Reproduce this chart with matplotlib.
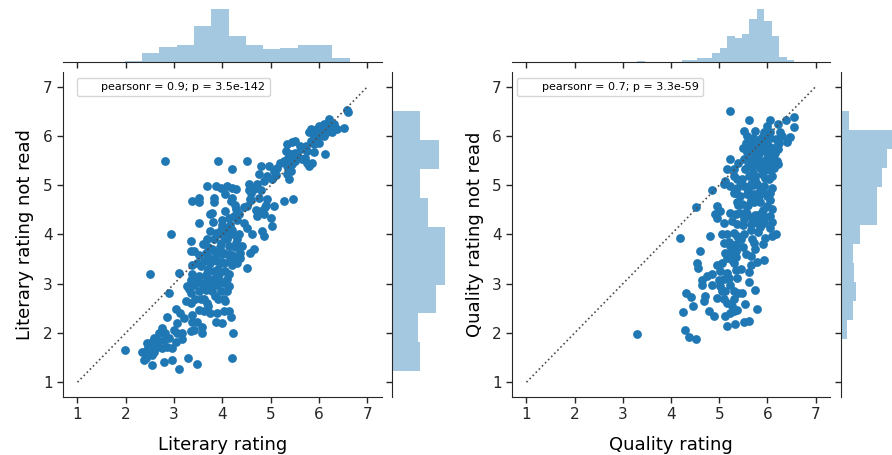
import numpy as np
import matplotlib as mpl
mpl.use('agg')
import matplotlib.pyplot as plt

# scatter values
lit_x = [6.60, 6.58, 6.20, 6.10, 6.24, 6.00, 5.83, 5.79, 6.03, 6.17, 6.27, 6.38, 6.51, 6.10, 5.96,
         5.83, 5.89, 5.72, 5.62, 5.75, 5.89, 6.13, 5.34, 5.44, 5.31, 5.41, 5.55, 5.65, 5.75, 5.79,
         5.51, 5.44, 5.34, 5.27, 5.41, 5.34, 5.38, 5.13, 5.06, 4.96, 4.79, 4.93, 5.03, 4.86, 4.75,
         4.72, 4.55, 4.65, 4.75, 4.93, 5.06, 5.27, 5.46, 4.89, 4.79, 4.72, 4.86, 5.00, 5.03, 4.82,
         4.86, 4.58, 4.51, 4.44, 4.51, 4.62, 4.65, 4.58, 4.51, 4.37, 4.41, 4.31, 2.82, 3.91, 4.51,
         4.19, 3.68, 3.86, 3.96, 4.10, 4.20, 4.27, 3.37, 3.51, 3.51, 3.82, 3.82, 4.06, 4.20, 4.17,
         3.75, 3.79, 4.06, 4.13, 4.27, 4.24, 4.34, 3.51, 2.93, 3.34, 3.75, 3.86, 3.96, 4.06, 4.03,
         4.17, 4.34, 3.68, 3.82, 3.96, 4.13, 4.27, 4.37, 3.34, 3.41, 3.51, 3.65, 3.79, 3.89, 4.03,
         4.13, 4.24, 3.48, 3.62, 3.37, 3.75, 3.89, 4.03, 4.20, 4.31, 3.10, 3.37, 3.34, 3.51, 3.68,
         3.82, 3.93, 4.06, 4.13, 2.51, 3.27, 3.41, 3.55, 3.68, 3.79, 3.89, 4.03, 4.13, 3.51, 3.65,
         3.79, 3.96, 3.34, 3.24, 3.34, 3.44, 3.62, 3.68, 4.03, 4.06, 2.89, 3.03, 3.13, 3.37, 3.51,
         3.62, 3.75, 3.89, 4.03, 4.13, 2.86, 3.37, 3.48, 3.58, 3.86, 4.00, 4.17, 3.34, 3.41, 3.58,
         4.22, 2.68, 2.82, 2.99, 3.06, 3.17, 2.58, 2.44, 2.55, 2.65, 2.79, 2.89, 3.03, 3.17, 2.34,
         2.44, 2.55, 2.65, 2.75, 2.86, 2.96, 2.41, 2.55, 2.58, 2.37, 2.55, 2.79, 2.96, 3.10, 3.28,
         3.48, 4.20, 1.99, 3.70, 3.90, 4.00, 3.85, 3.60, 3.95, 4.10, 3.70, 4.15, 3.55, 3.75, 3.90,
         4.00, 4.25, 5.60, 5.90, 6.20, 5.50, 5.70, 6.00, 4.80, 4.90, 5.10, 4.60,
         3.65, 3.80, 3.95, 4.10, 3.70, 3.85, 4.00, 4.15, 4.25, 3.90, 4.05, 4.20, 3.80, 4.00,
         4.30, 3.60, 3.55, 3.70, 3.85, 4.10, 3.45, 3.30, 3.20, 3.05, 2.75, 2.65, 2.45, 4.45,
         4.60, 4.55, 4.70, 5.20, 5.35, 5.50, 5.95, 6.10, 6.30, 5.70, 5.85, 4.35, 4.15]
lit_y = [6.48, 6.52, 6.35, 6.24, 6.21, 6.21, 6.14, 6.08, 6.11, 6.08, 6.08, 6.14, 6.16, 6.01, 5.97,
         5.90, 5.84, 5.80, 5.74, 5.70, 5.67, 5.63, 5.84, 5.87, 5.70, 5.63, 5.60, 5.53, 5.46, 5.40,
         5.50, 5.43, 5.40, 5.50, 5.29, 5.23, 5.12, 5.36, 5.29, 5.40, 5.40, 5.19, 5.12, 5.09, 5.23,
         5.02, 5.02, 4.92, 4.75, 4.72, 4.58, 4.68, 4.72, 4.55, 4.48, 4.38, 4.41, 4.34, 4.17, 4.07,
         3.97, 4.72, 4.58, 4.24, 4.14, 4.00, 3.70, 3.63, 3.32, 3.52, 3.76, 3.90, 5.50, 5.50, 5.50,
         5.33, 4.99, 4.99, 4.95, 4.99, 4.95, 4.92, 4.68, 4.75, 4.65, 4.75, 4.65, 4.82, 4.75, 4.68,
         4.41, 4.44, 4.48, 4.34, 4.51, 4.38, 4.41, 4.24, 4.00, 3.87, 4.07, 4.04, 4.10, 4.14, 3.97,
         4.00, 4.00, 3.90, 3.90, 3.83, 3.76, 3.83, 3.63, 3.66, 3.66, 3.59, 3.63, 3.70, 3.63, 3.63,
         3.56, 3.56, 3.42, 3.46, 3.39, 3.42, 3.46, 3.42, 3.39, 3.42, 3.22, 3.19, 3.08, 3.15, 3.22,
         3.25, 3.19, 3.25, 3.19, 3.19, 2.95, 2.98, 3.02, 3.05, 3.08, 2.98, 3.02, 2.95, 2.85, 2.88,
         2.85, 2.85, 2.81, 2.64, 2.61, 2.68, 2.68, 2.61, 2.68, 2.64, 2.82, 2.48, 2.40, 2.37, 2.47,
         2.44, 2.40, 2.40, 2.44, 2.44, 2.32, 2.23, 2.23, 2.13, 2.23, 2.20, 2.32, 2.03, 2.06, 1.99,
         1.99, 1.99, 1.99, 2.06, 1.99, 1.99, 1.89, 1.79, 1.82, 1.79, 1.86, 1.89, 1.82, 1.87, 1.62,
         1.66, 1.69, 1.72, 1.69, 1.72, 1.69, 1.49, 1.55, 1.62, 1.45, 1.35, 1.42, 1.45, 1.26, 1.50,
         1.38, 1.49, 1.66, 3.30, 3.30, 3.60, 3.50, 3.00, 3.75, 3.90, 3.75, 4.20, 3.35, 2.95, 2.70,
         4.30, 4.60, 5.80, 6.00, 6.20, 5.65, 5.55, 5.85, 4.90, 4.60, 5.20, 4.85,
         3.15, 3.10, 3.05, 3.10, 3.55, 3.65, 3.45, 3.60, 3.75, 4.00, 4.05, 4.10, 4.25, 4.20,
         4.30, 3.80, 2.70, 2.55, 2.75, 2.85, 3.10, 2.90, 2.30, 2.20, 2.10, 1.85, 1.75, 4.55,
         4.70, 4.90, 4.50, 5.45, 5.55, 5.90, 6.15, 6.05, 6.25, 5.75, 5.45, 3.55, 3.45]

qual_x = [5.22, 5.61, 6.06, 6.55, 6.39, 6.23, 6.55, 5.51, 5.75, 5.92, 6.06, 6.27, 6.48, 5.58, 5.68,
          5.85, 5.99, 6.17, 6.30, 6.41, 5.65, 5.79, 5.92, 6.06, 6.20, 5.58, 5.72, 5.85, 5.99, 6.13,
          6.23, 5.23, 5.40, 5.51, 5.65, 5.79, 5.92, 6.06, 6.20, 5.16, 5.30, 5.54, 5.68, 5.85, 5.99,
          6.13, 6.23, 5.09, 5.13, 5.30, 5.37, 5.47, 5.61, 5.75, 5.89, 6.03, 6.10, 4.85, 5.23, 5.37,
          5.51, 5.65, 5.79, 5.92, 6.10, 5.30, 5.44, 5.58, 5.72, 5.85, 5.99, 6.06, 4.51, 4.96, 5.02,
          4.92, 4.96, 5.37, 5.47, 5.58, 5.72, 5.85, 5.99, 6.10, 5.23, 5.34, 5.44, 5.58, 5.68, 5.85,
          6.06, 5.09, 5.27, 5.37, 5.51, 5.65, 5.79, 5.92, 6.06, 4.18, 4.80, 5.06, 5.16, 5.30, 5.37,
          5.51, 5.68, 5.72, 5.96, 6.10, 6.17, 5.91, 5.09, 5.23, 5.34, 4.61, 5.13, 5.23, 5.34, 5.16,
          5.27, 5.65, 4.96, 5.06, 5.30, 5.65, 5.79, 5.94, 4.54, 4.55, 5.02, 5.16, 5.34, 5.61, 4.64,
          4.75, 4.85, 4.99, 5.20, 5.37, 5.61, 4.64, 4.85, 5.02, 5.13, 5.23, 5.30, 5.40, 5.47, 5.75,
          4.32, 4.42, 4.71, 4.96, 5.09, 4.68, 5.16, 5.27, 5.37, 5.54, 5.79, 4.46, 4.78, 4.89, 4.25,
          5.13, 5.23, 5.30, 5.51, 5.61, 5.16, 5.32, 4.30, 4.37, 4.52, 3.30, 5.70, 5.80, 5.95, 5.75,
          5.85, 5.65, 5.90, 5.55, 5.80, 6.00, 5.70, 5.50, 5.90, 5.60, 5.80, 5.45, 5.55, 6.05, 6.15,
          5.75, 5.55, 5.65, 5.75, 5.85, 5.95, 5.70, 5.80, 5.95, 6.05, 5.60, 5.75, 5.50, 5.65,
          5.85, 5.95, 6.10, 5.40, 5.35, 5.45, 5.60, 5.90, 6.05, 6.10, 6.25, 5.50, 5.35, 5.45,
          5.20, 5.10, 5.30, 5.05, 5.70, 6.00]
qual_y = [6.50, 6.33, 6.33, 6.38, 6.33, 6.24, 6.18, 6.11, 6.11, 6.08, 6.08, 6.08, 5.97, 6.01, 5.94,
          5.94, 5.90, 5.94, 6.01, 5.87, 5.80, 5.80, 5.80, 5.77, 5.80, 5.67, 5.67, 5.67, 5.67, 5.63,
          5.74, 5.53, 5.46, 5.53, 5.53, 5.53, 5.50, 5.53, 5.50, 5.33, 5.33, 5.33, 5.36, 5.40, 5.40,
          5.36, 5.43, 5.02, 5.09, 5.19, 5.12, 5.12, 5.19, 5.19, 5.23, 5.12, 5.19, 4.90, 4.99, 4.95,
          4.99, 5.02, 5.02, 4.99, 4.95, 4.85, 4.78, 4.82, 4.82, 4.82, 4.78, 4.85, 4.55, 4.58, 4.48,
          4.41, 4.34, 4.65, 4.61, 4.58, 4.65, 4.65, 4.58, 4.51, 4.44, 4.41, 4.44, 4.41, 4.34, 4.41,
          4.38, 4.24, 4.27, 4.21, 4.31, 4.21, 4.24, 4.24, 4.14, 3.92, 3.97, 4.00, 4.00, 4.04, 3.97,
          4.00, 3.90, 3.83, 3.93, 3.97, 4.00, 3.80, 3.83, 3.76, 3.80, 3.66, 3.63, 3.63, 3.66, 3.53,
          3.49, 3.57, 3.39, 3.42, 3.42, 3.39, 3.44, 3.49, 3.42, 3.32, 3.25, 3.22, 3.27, 3.23, 3.08,
          3.15, 3.19, 3.08, 3.12, 3.12, 3.03, 2.98, 2.98, 2.95, 2.85, 2.98, 2.85, 2.81, 2.82, 2.87,
          2.82, 2.74, 2.76, 2.71, 2.68, 2.64, 2.61, 2.54, 2.47, 2.59, 2.48, 2.55, 2.44, 2.34, 2.42,
          2.35, 2.40, 2.44, 2.23, 2.25, 2.15, 2.18, 2.06, 1.91, 1.88, 1.98, 5.90, 5.60, 5.30, 5.10,
          4.90, 4.70, 4.50, 4.45, 4.30, 5.55, 5.25, 5.75, 6.00, 4.90, 4.05, 3.90, 3.60, 5.30, 5.65,
          3.70, 5.85, 5.75, 5.45, 5.35, 5.15, 5.00, 4.75, 4.85, 4.70, 4.60, 4.40, 4.20, 4.10,
          4.15, 4.35, 4.25, 4.60, 4.85, 5.05, 5.40, 5.90, 5.95, 5.45, 5.85, 3.75, 3.55, 3.30,
          3.85, 3.10, 2.70, 2.85, 5.95, 6.20]

# marginal histogram counts (bin ranges and counts)
lit_top_range = (1.98, 6.63)
lit_top_counts = [2, 16, 25, 28, 60, 90, 44, 28, 22, 24, 28, 28, 7]
lit_side_range = (1.22, 6.51)
lit_side_counts = [32, 30, 51, 61, 62, 42, 33, 55, 33]
qual_top_range = (3.30, 6.56)
qual_top_counts = [1, 0, 0, 0, 0, 0, 3, 3, 6, 6, 13, 20, 36, 34, 40, 60, 75, 57, 36, 7, 3]
qual_side_range = (1.88, 6.50)
qual_side_counts = [8, 16, 20, 18, 16, 25, 49, 48, 55, 62, 72, 11]

ticks = [1, 2, 3, 4, 5, 6, 7]
dark = '.15'
blue = '#1f77b4'

plt.rcParams['font.family'] = 'DejaVu Sans'
plt.rcParams['axes.edgecolor'] = dark
plt.rcParams['xtick.color'] = dark
plt.rcParams['ytick.color'] = dark

fig = plt.figure(figsize=(8.92, 4.55), dpi=100)


def joint(left, main_w, side_left, x, y, top_range, top_counts, side_range, side_counts,
          xlabel, ylabel, note, note_x):
    ax = fig.add_axes([left, 0.1275, main_w, 0.7143])
    ax_top = fig.add_axes([left, 0.8637, main_w, 0.1233], sharex=ax)
    ax_side = fig.add_axes([side_left, 0.1275, 0.0628, 0.7143], sharey=ax)

    ax.scatter(x, y, s=40, color=blue, linewidths=0)
    ax.plot([1, 7], [1, 7], ls=':', color='.3', lw=1.2)
    ax.set_xlim(0.7, 7.3)
    ax.set_ylim(0.7, 7.3)
    ax.set_xticks(ticks)
    ax.set_yticks(ticks)
    ax.tick_params(labelsize=11, length=4, width=1)
    ax.set_xlabel(xlabel, fontsize=13, labelpad=10)
    ax.set_ylabel(ylabel, fontsize=13, labelpad=6)
    for s in ['top', 'right']:
        ax.spines[s].set_visible(False)

    # empty handle, as the old jointplot annotation did
    h, = ax.plot([], [], linewidth=0)
    ax.legend([h], [note], loc='upper left', fontsize=8, handlelength=1.0,
              borderaxespad=0, bbox_to_anchor=(note_x, 0.983))

    edges = np.linspace(top_range[0], top_range[1], len(top_counts) + 1)
    ax_top.bar(edges[:-1], top_counts, width=np.diff(edges), align='edge',
               color=blue, alpha=0.4, linewidth=0)
    edges = np.linspace(side_range[0], side_range[1], len(side_counts) + 1)
    ax_side.barh(edges[:-1], side_counts, height=np.diff(edges), align='edge',
                 color=blue, alpha=0.4, linewidth=0)

    for s in ['top', 'left', 'right']:
        ax_top.spines[s].set_visible(False)
    for s in ['top', 'bottom', 'right']:
        ax_side.spines[s].set_visible(False)
    ax_top.tick_params(labelbottom=False, left=False, labelleft=False, length=4, width=1)
    ax_side.tick_params(labelleft=False, bottom=False, labelbottom=False, length=4, width=1)


joint(0.0706, 0.3576, 0.4395, lit_x, lit_y, lit_top_range, lit_top_counts,
      lit_side_range, lit_side_counts, 'Literary rating', 'Literary rating not read',
      'pearsonr = 0.9; p = 3.5e-142', 0.044)
joint(0.574, 0.3565, 0.9428, qual_x, qual_y, qual_top_range, qual_top_counts,
      qual_side_range, qual_side_counts, 'Quality rating', 'Quality rating not read',
      'pearsonr = 0.7; p = 3.3e-59', 0.016)

plt.savefig('out.png', dpi=100)
